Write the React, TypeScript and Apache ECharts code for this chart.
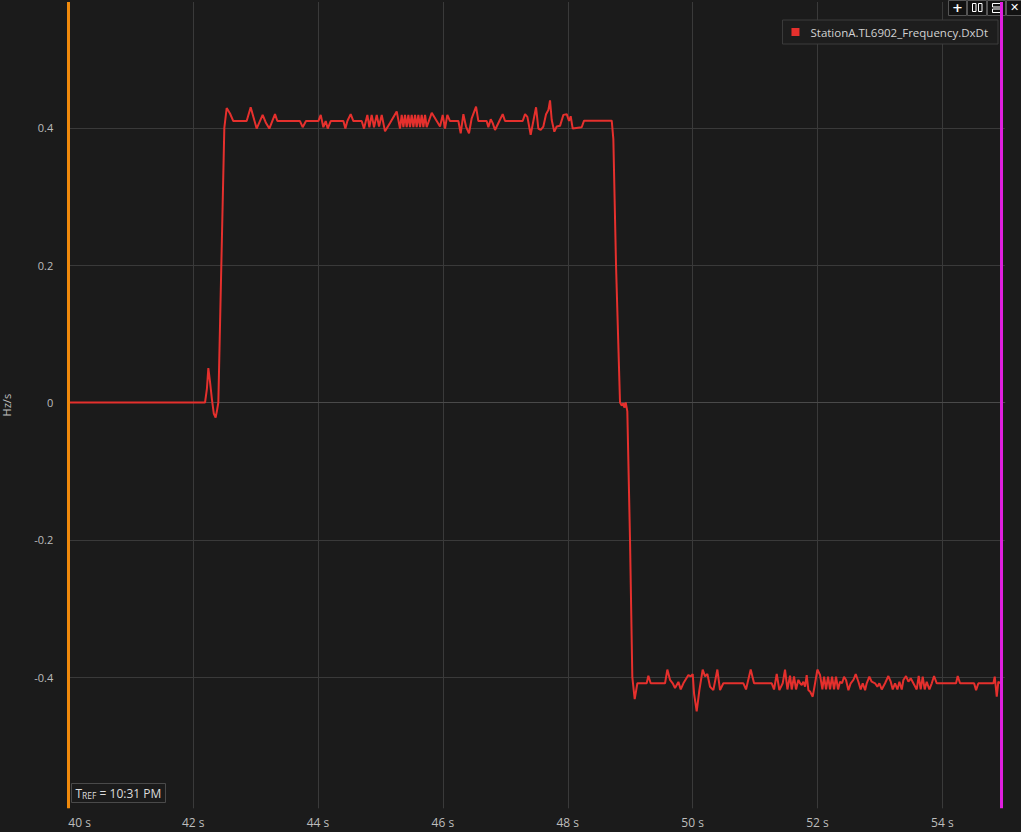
import React, { useEffect, useRef } from "react";
import * as echarts from "echarts";

const SERIES_NAME = "StationA.TL6902_Frequency.DxDt";
const xTicks = [40, 42, 44, 46, 48, 50, 52, 54];
const yTicks = [-0.4, -0.2, 0, 0.2, 0.4];
const xRange = [40, 55];
const yRange = [-0.5911, 0.5834];
const cursorStart = 40;
const cursorEnd = 54.945;

// [time (s), value (Hz/s)]
const preEvent: number[][] = [
  [40, 0], [42.19, 0],
];
const bumpAndRise: number[][] = [
  [42.22, 0.02], [42.243, 0.05], [42.27, 0.03], [42.3, 0.005], [42.33, -0.016],
  [42.36, -0.022], [42.385, -0.01], [42.403, 0.0], [42.451, 0.2], [42.499, 0.4],
  [42.537, 0.429], [42.59, 0.421], [42.643, 0.41],
];
const highPlateau: number[][] = [
  [42.857, 0.41], [42.921, 0.43], [43.017, 0.399], [43.113, 0.419], [43.167, 0.407],
  [43.22, 0.399], [43.311, 0.42], [43.348, 0.41], [43.711, 0.41], [43.754, 0.401],
  [43.807, 0.41], [44.005, 0.41], [44.043, 0.419], [44.085, 0.401], [44.123, 0.41],
  [44.155, 0.399], [44.203, 0.41], [44.406, 0.41], [44.438, 0.399], [44.47, 0.41],
  [44.523, 0.42], [44.566, 0.41], [44.699, 0.41], [44.737, 0.399], [44.79, 0.419],
  [44.822, 0.401], [44.859, 0.419], [44.897, 0.401], [44.94, 0.419], [44.977, 0.402],
  [45.02, 0.419], [45.073, 0.395], [45.153, 0.407], [45.26, 0.424], [45.313, 0.399],
  [45.34, 0.419], [45.367, 0.401], [45.393, 0.419], [45.42, 0.401], [45.447, 0.419],
  [45.473, 0.401], [45.5, 0.419], [45.527, 0.401], [45.554, 0.419], [45.58, 0.401],
  [45.607, 0.419], [45.634, 0.401], [45.66, 0.419], [45.687, 0.401], [45.714, 0.419],
  [45.74, 0.401], [45.821, 0.422], [45.901, 0.41], [45.954, 0.402], [45.997, 0.419],
  [46.034, 0.399], [46.071, 0.419], [46.114, 0.41], [46.248, 0.41], [46.285, 0.392],
  [46.328, 0.42], [46.37, 0.402], [46.418, 0.392], [46.461, 0.414], [46.531, 0.431],
  [46.568, 0.41], [46.701, 0.41], [46.728, 0.401], [46.766, 0.4125], [46.798, 0.407],
  [46.835, 0.397], [46.904, 0.41], [46.958, 0.42], [46.995, 0.41], [47.278, 0.41],
  [47.316, 0.42], [47.353, 0.416], [47.406, 0.39], [47.449, 0.41], [47.492, 0.43],
  [47.529, 0.399], [47.566, 0.397], [47.609, 0.402], [47.652, 0.42], [47.689, 0.426],
  [47.716, 0.44], [47.743, 0.4115], [47.785, 0.3945], [47.823, 0.402], [47.876, 0.403],
  [47.93, 0.419], [47.983, 0.42], [48.02, 0.41], [48.047, 0.417], [48.079, 0.399],
  [48.223, 0.401], [48.261, 0.4105], [48.704, 0.4105],
];
const dropSegment: number[][] = [
  [48.73, 0.384], [48.773, 0.2], [48.837, 0.0], [48.864, -0.0045], [48.89, -0.001],
  [48.906, -0.0075], [48.928, 0.0], [48.954, -0.013], [48.997, -0.2], [49.034, -0.4],
  [49.072, -0.432],
];
const lowPlateau: number[][] = [
  [49.115, -0.409], [49.264, -0.409], [49.291, -0.398], [49.328, -0.409], [49.558, -0.409],
  [49.595, -0.389], [49.638, -0.404], [49.681, -0.409], [49.718, -0.416], [49.772, -0.407],
  [49.809, -0.418], [49.852, -0.409], [49.932, -0.397], [49.969, -0.399], [50.001, -0.3955],
  [50.023, -0.424], [50.065, -0.45], [50.108, -0.419], [50.161, -0.389], [50.199, -0.399],
  [50.236, -0.3955], [50.279, -0.414], [50.332, -0.419], [50.396, -0.389], [50.439, -0.419],
  [50.492, -0.409], [50.813, -0.409], [50.855, -0.418], [50.93, -0.389], [50.984, -0.409],
  [51.267, -0.409], [51.304, -0.418], [51.347, -0.3955], [51.389, -0.419], [51.443, -0.409],
  [51.48, -0.389], [51.518, -0.418], [51.56, -0.398], [51.587, -0.418], [51.624, -0.399],
  [51.656, -0.418], [51.694, -0.404], [51.721, -0.409], [51.747, -0.4115], [51.774, -0.4067],
  [51.801, -0.414], [51.827, -0.397], [51.854, -0.419], [51.881, -0.421], [51.923, -0.4285],
  [51.961, -0.409], [51.998, -0.389], [52.041, -0.397], [52.078, -0.418], [52.105, -0.3994],
  [52.137, -0.418], [52.169, -0.3994], [52.201, -0.418], [52.233, -0.3994], [52.265, -0.418],
  [52.297, -0.3994], [52.329, -0.418], [52.361, -0.4067], [52.393, -0.409], [52.425, -0.3994],
  [52.457, -0.4042], [52.495, -0.419], [52.532, -0.409], [52.575, -0.4042], [52.612, -0.3955],
  [52.655, -0.4067], [52.692, -0.418], [52.724, -0.409], [52.762, -0.419], [52.788, -0.409],
  [52.831, -0.3994], [52.868, -0.4067], [52.922, -0.409], [52.959, -0.414], [52.991, -0.409],
  [53.029, -0.418], [53.082, -0.409], [53.135, -0.3984], [53.173, -0.4067], [53.205, -0.418],
  [53.242, -0.409], [53.28, -0.418], [53.312, -0.4067], [53.349, -0.418], [53.376, -0.4042],
  [53.418, -0.3984], [53.456, -0.4067], [53.493, -0.4018], [53.536, -0.409], [53.589, -0.418],
  [53.621, -0.3984], [53.653, -0.418], [53.685, -0.3994], [53.717, -0.418], [53.749, -0.4067],
  [53.792, -0.418], [53.83, -0.409], [53.867, -0.3984], [53.91, -0.409], [54.219, -0.409],
  [54.246, -0.3984], [54.283, -0.409], [54.508, -0.409], [54.54, -0.419], [54.577, -0.409],
  [54.817, -0.409], [54.839, -0.3994], [54.871, -0.4285], [54.897, -0.4067], [54.924, -0.409],
];

const BG = "#1b1b1b";
const GRID = "#3a3a3a";
const LABEL = "#bdbdbd";
const FONT = "'Open Sans', 'Noto Sans', sans-serif";

export default function App() {
  const ref = useRef<HTMLDivElement>(null);
  useEffect(() => {
    if (!ref.current) return;
    const chart = echarts.init(ref.current, undefined, { renderer: "svg" });
    const data = [...preEvent, ...bumpAndRise, ...highPlateau, ...dropSegment, ...lowPlateau];
    const iconBox = (x: number, w: number) => ({
      type: "rect",
      shape: { x, y: -1, width: w, height: 15 },
      style: { fill: "#121212", stroke: "#555", lineWidth: 1 },
      silent: true,
    });
    chart.setOption({
      animation: false,
      backgroundColor: BG,
      textStyle: { fontFamily: FONT },
      grid: {
        left: 68.3,
        top: 2,
        width: 936.5,
        height: 806.3,
        containLabel: false,
        outerBoundsMode: "none",
      },
      legend: {
        show: true,
        data: [SERIES_NAME],
        right: 23,
        top: 20,
        icon: "rect",
        itemWidth: 8,
        itemHeight: 8,
        itemGap: 8,
        padding: [6, 10, 6, 9],
        backgroundColor: "#1d1d1d",
        borderColor: "#3c3c3c",
        borderWidth: 1,
        textStyle: { color: "#d2d2d2", fontSize: 11.5, fontFamily: FONT, padding: [1, 0, 0, 6] },
      },
      xAxis: {
        type: "value",
        min: xRange[0],
        max: xRange[1],
        axisLine: { show: true, lineStyle: { color: "#4a4a4a", width: 1 } },
        axisTick: { show: false, customValues: xTicks },
        axisLabel: {
          customValues: xTicks,
          formatter: (v: number) => `${v} s`,
          color: LABEL,
          fontSize: 12,
          fontFamily: FONT,
          margin: 8,
          alignMinLabel: "left",
        },
        splitLine: { show: true, lineStyle: { color: GRID, width: 1 } },
      },
      yAxis: {
        type: "value",
        min: yRange[0],
        max: yRange[1],
        name: "Hz/s",
        nameLocation: "middle",
        nameGap: 56.5,
        nameRotate: 90,
        nameTextStyle: { color: LABEL, fontSize: 11, fontFamily: FONT },
        axisLine: { show: false },
        axisTick: { show: false, customValues: yTicks },
        axisLabel: {
          customValues: yTicks,
          formatter: (v: number) => (Math.abs(v) < 1e-9 ? "0" : v.toFixed(1)),
          color: LABEL,
          fontSize: 11,
          fontFamily: FONT,
          margin: 15,
        },
        splitLine: { show: true, lineStyle: { color: GRID, width: 1 } },
      },
      series: [
        {
          name: SERIES_NAME,
          type: "line",
          data,
          showSymbol: false,
          symbol: "none",
          color: "#e5302d",
          lineStyle: { color: "#e5302d", width: 2 },
          markLine: {
            silent: true,
            symbol: ["none", "none"],
            label: { show: false },
            emphasis: { disabled: true },
            data: [
              { xAxis: cursorStart, lineStyle: { color: "#f08a0c", width: 3, type: "solid", opacity: 1 } },
              { xAxis: cursorEnd, lineStyle: { color: "#e01fe0", width: 3, type: "solid", opacity: 1 } },
            ],
          },
        },
      ],
      graphic: [
        {
          type: "group",
          left: 71,
          top: 783,
          children: [
            {
              type: "rect",
              shape: { x: 0, y: 0, width: 94, height: 19 },
              style: { fill: BG, stroke: "#4a4a4a", lineWidth: 1 },
            },
            {
              type: "text",
              x: 4,
              y: 10,
              style: {
                text: "{t|T}{s|REF}{t| = 10:31 PM}",
                verticalAlign: "middle",
                rich: {
                  t: { fill: "#dcdcdc", fontSize: 12, fontFamily: FONT },
                  s: { fill: "#dcdcdc", fontSize: 8.5, fontFamily: FONT, padding: [3, 0, 0, 0] },
                },
              },
            },
          ],
        },
        {
          type: "group",
          left: 948,
          top: 0,
          children: [
            iconBox(1, 18),
            iconBox(20, 19),
            iconBox(40, 18),
            iconBox(59, 16),
            {
              type: "text",
              x: 10,
              y: 6,
              style: { text: "+", fill: "#ffffff", fontSize: 13, fontWeight: "bold", align: "center", verticalAlign: "middle", fontFamily: "DejaVu Sans" },
            },
            { type: "rect", shape: { x: 25, y: 2, width: 3.5, height: 8 }, style: { fill: "none", stroke: "#ffffff", lineWidth: 1 } },
            { type: "rect", shape: { x: 31, y: 2, width: 3.5, height: 8 }, style: { fill: "none", stroke: "#ffffff", lineWidth: 1 } },
            { type: "rect", shape: { x: 45, y: 2, width: 8, height: 3.5 }, style: { fill: "none", stroke: "#ffffff", lineWidth: 1 } },
            { type: "rect", shape: { x: 45, y: 7.5, width: 8, height: 3.5 }, style: { fill: "none", stroke: "#ffffff", lineWidth: 1 } },
            {
              type: "text",
              x: 67,
              y: 6,
              style: { text: "✕", fill: "#ffffff", fontSize: 11, fontWeight: "bold", align: "center", verticalAlign: "middle", fontFamily: "DejaVu Sans" },
            },
          ],
        },
      ],
    });
    return () => chart.dispose();
  }, []);
  return (
    <div
      ref={ref}
      style={{ position: "fixed", left: 0, top: 0, width: 1021, height: 832, background: BG }}
    />
  );
}
